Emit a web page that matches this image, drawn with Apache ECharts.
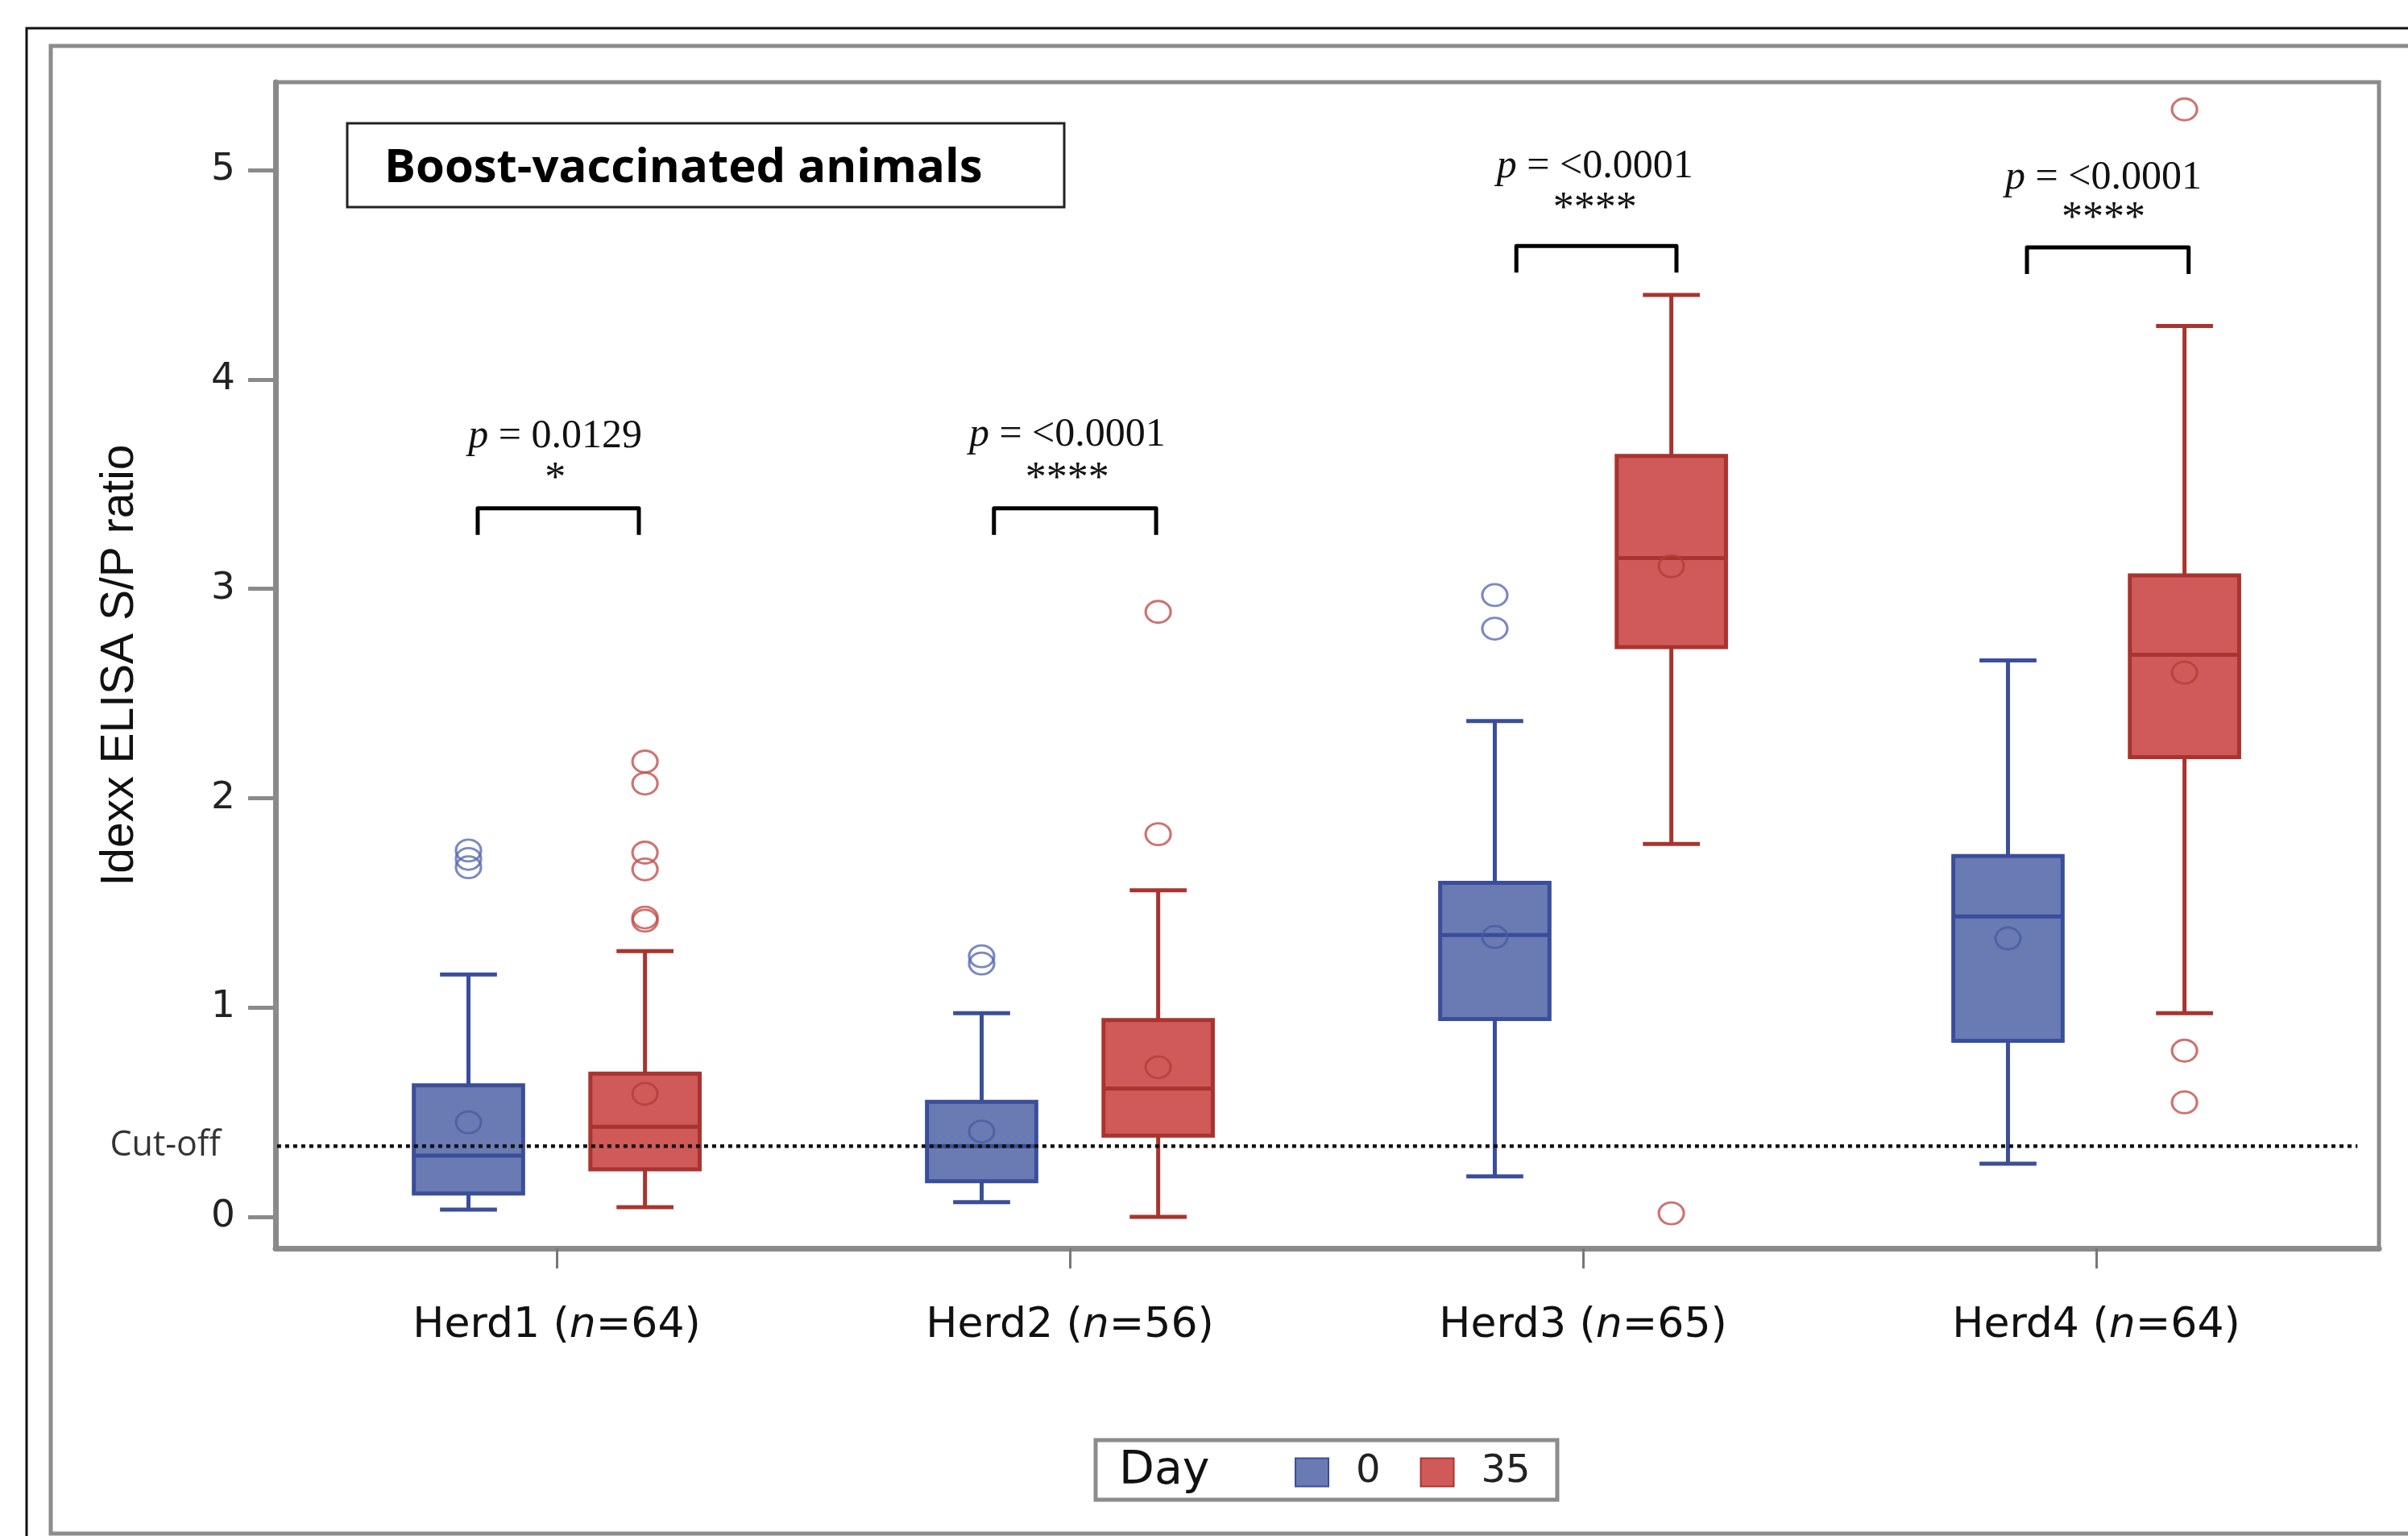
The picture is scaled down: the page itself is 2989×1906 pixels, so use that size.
<!DOCTYPE html>
<html>
<head>
<meta charset="utf-8">
<script src="https://cdn.jsdelivr.net/npm/echarts@6/dist/echarts.min.js"></script>
<style>
html,body{margin:0;padding:0;background:#fff;}
#chart{width:2989px;height:1906px;}
</style>
</head>
<body>
<div id="chart"></div>
<script>
// ---------------- data ----------------
const categories = ['Herd1', 'Herd2', 'Herd3', 'Herd4'];
const herdN = [64, 56, 65, 64];
const days = ['0', '35'];
// [low whisker, Q1, median, Q3, high whisker]
const day0Box = [
  [0.035, 0.112, 0.293, 0.629, 1.158],
  [0.070, 0.170, 0.338, 0.550, 0.973],
  [0.194, 0.945, 1.346, 1.596, 2.368],
  [0.254, 0.841, 1.435, 1.724, 2.658]
];
const day35Box = [
  [0.046, 0.227, 0.430, 0.684, 1.269],
  [0.000, 0.388, 0.613, 0.940, 1.560],
  [1.781, 2.722, 3.147, 3.635, 4.404],
  [0.973, 2.196, 2.685, 3.064, 4.256]
];
const day0Mean = [0.452, 0.408, 1.337, 1.330];
const day35Mean = [0.588, 0.715, 3.108, 2.600];
const day0Outliers = [[1.75, 1.71, 1.67], [1.245, 1.21], [2.97, 2.81], []];
const day35Outliers = [[2.175, 2.07, 1.74, 1.66, 1.43, 1.415], [2.89, 1.828], [0.017], [5.29, 0.794, 0.547]];
const cutOff = 0.338;
const cutOffLabel = 'Cut-off';
const yTicks = [0, 1, 2, 3, 4, 5];
const pValues = ['0.0129', '<0.0001', '<0.0001', '<0.0001'];
const stars = ['*', '****', '****', '****'];
const bracketLeft = [0.846, 1.852, 2.870, 3.865];
const bracketRight = [1.160, 2.168, 3.182, 4.180];
const bracketY = [3.385, 3.385, 4.638, 4.631];
const pTextX = [0.997, 1.995, 3.023, 4.014];
const pTextY = [3.728, 3.735, 5.016, 4.962];
const starY = [3.520, 3.520, 4.810, 4.765];

// ---------------- styles ----------------
const BLUE_FILL = '#6A7BB4', BLUE_LINE = '#3A4E9A', BLUE_PT = '#5A6CB0';
const RED_FILL = '#D05A59', RED_LINE = '#A9342F', RED_PT = '#C0504D';
const AXIS_GRAY = '#8a8a8a';
const OFFSET = 0.172, BOX_W = 0.213, CAP_W = 0.111, LEG = 0.127;

function boxData(arr, sign) {
  return arr.map((b, i) => [i + 1 + sign * OFFSET].concat(b));
}
function meanData(arr, sign) {
  return arr.map((m, i) => [i + 1 + sign * OFFSET, m]);
}
function outlierData(arr, sign) {
  const out = [];
  arr.forEach((list, i) => list.forEach(v => out.push([i + 1 + sign * OFFSET, v])));
  return out;
}

function makeBoxRender(fill, line) {
  return function (params, api) {
    const x = api.value(0);
    const low = api.value(1), q1 = api.value(2), med = api.value(3), q3 = api.value(4), high = api.value(5);
    const pL = api.coord([x - BOX_W / 2, q3]);
    const pR = api.coord([x + BOX_W / 2, q1]);
    const pc = api.coord([x, med]);
    const pLow = api.coord([x, low]);
    const pHigh = api.coord([x, high]);
    const cL = api.coord([x - CAP_W / 2, low])[0];
    const cR = api.coord([x + CAP_W / 2, low])[0];
    const pQ1 = api.coord([x, q1]);
    const pQ3 = api.coord([x, q3]);
    const ls = { stroke: line, lineWidth: 5, fill: null };
    return {
      type: 'group',
      children: [
        { type: 'line', shape: { x1: pc[0], y1: pQ3[1], x2: pc[0], y2: pHigh[1] }, style: ls },
        { type: 'line', shape: { x1: pc[0], y1: pQ1[1], x2: pc[0], y2: pLow[1] }, style: ls },
        { type: 'line', shape: { x1: cL, y1: pHigh[1], x2: cR, y2: pHigh[1] }, style: ls },
        { type: 'line', shape: { x1: cL, y1: pLow[1], x2: cR, y2: pLow[1] }, style: ls },
        { type: 'rect', shape: { x: pL[0], y: pL[1], width: pR[0] - pL[0], height: pR[1] - pL[1] },
          style: { fill: fill, stroke: line, lineWidth: 5 } },
        { type: 'line', shape: { x1: pL[0], y1: pc[1], x2: pR[0], y2: pc[1] }, style: ls }
      ]
    };
  };
}

const annotData = categories.map((c, i) => [bracketLeft[i], bracketRight[i], bracketY[i], pTextX[i], pTextY[i], starY[i], i]);

function renderAnnot(params, api) {
  const xl = api.value(0), xr = api.value(1), yb = api.value(2);
  const xt = api.value(3), yp = api.value(4), ys = api.value(5), idx = api.value(6);
  const a = api.coord([xl, yb - LEG]);
  const b = api.coord([xl, yb]);
  const c = api.coord([xr, yb]);
  const d = api.coord([xr, yb - LEG]);
  const tp = api.coord([xt, yp]);
  const ts = api.coord([xt, ys]);
  return {
    type: 'group',
    children: [
      { type: 'polyline', shape: { points: [a, b, c, d] },
        style: { stroke: '#000', lineWidth: 5, fill: null, lineJoin: 'round' } },
      { type: 'text', x: tp[0], y: tp[1],
        style: { text: '{p|p} = ' + pValues[idx], align: 'center', verticalAlign: 'middle',
          fontFamily: 'Liberation Serif', fontSize: 50, fill: '#111',
          rich: { p: { fontStyle: 'italic', fontFamily: 'Liberation Serif', fontSize: 50, fill: '#111' } } } },
      { type: 'text', x: ts[0], y: ts[1],
        style: { text: stars[idx], align: 'center', verticalAlign: 'middle',
          fontFamily: 'Liberation Serif', fontSize: 52, fill: '#111' } }
    ]
  };
}

const chart = echarts.init(document.getElementById('chart'), null, { renderer: 'canvas' });

const option = {
  backgroundColor: '#fff',
  animation: false,
  grid: { left: 342, top: 102, right: 36, bottom: 357, show: true, borderColor: AXIS_GRAY, borderWidth: 5, backgroundColor: 'transparent' },
  xAxis: {
    type: 'value', min: 0.452, max: 4.551,
    splitLine: { show: false },
    axisLine: { show: true, onZero: false, lineStyle: { color: AXIS_GRAY, width: 7 } },
    axisTick: { show: true, customValues: [1, 2, 3, 4], length: 25, lineStyle: { color: '#777', width: 3 } },
    axisLabel: {
      customValues: [1, 2, 3, 4], margin: 70,
      fontFamily: 'DejaVu Sans', fontSize: 52, color: '#111',
      formatter: function (v) {
        const i = Math.round(v) - 1;
        return categories[i] + ' ({n|n}=' + herdN[i] + ')';
      },
      rich: { n: { fontStyle: 'italic', fontFamily: 'DejaVu Sans', fontSize: 52, color: '#111' } }
    }
  },
  yAxis: {
    type: 'value', min: -0.15, max: 5.42,
    splitLine: { show: false },
    axisLine: { show: true, onZero: false, lineStyle: { color: AXIS_GRAY, width: 7 } },
    axisTick: { show: true, customValues: yTicks, length: 34, lineStyle: { color: AXIS_GRAY, width: 5 } },
    axisLabel: { customValues: yTicks, margin: 50, fontFamily: 'DejaVu Sans', fontSize: 47, color: '#222' },
    name: 'Idexx ELISA S/P ratio', nameLocation: 'middle', nameGap: 164,
    nameTextStyle: { fontFamily: 'Liberation Sans', fontSize: 57, color: '#111' }
  },
  legend: {
    data: days, left: 1607, top: 1803, padding: 0, itemGap: 49,
    itemWidth: 41, itemHeight: 35, icon: 'rect',
    textStyle: { fontFamily: 'DejaVu Sans', fontSize: 48, color: '#222', padding: [0, 0, 0, 29] }
  },
  series: [
    { name: days[0], type: 'custom', renderItem: makeBoxRender(BLUE_FILL, BLUE_LINE),
      itemStyle: { color: BLUE_FILL, borderColor: BLUE_LINE, borderWidth: 2 },
      encode: { x: 0, y: [1, 2, 3, 4, 5] }, data: boxData(day0Box, -1), z: 2 },
    { name: days[1], type: 'custom', renderItem: makeBoxRender(RED_FILL, RED_LINE),
      itemStyle: { color: RED_FILL, borderColor: RED_LINE, borderWidth: 2 },
      encode: { x: 0, y: [1, 2, 3, 4, 5] }, data: boxData(day35Box, 1), z: 2 },
    { name: 'mean0', type: 'scatter', symbol: 'circle', symbolSize: [31, 27], z: 3,
      itemStyle: { color: 'transparent', borderColor: '#4A5CA0', borderWidth: 3 },
      data: meanData(day0Mean, -1) },
    { name: 'mean35', type: 'scatter', symbol: 'circle', symbolSize: [31, 27], z: 3,
      itemStyle: { color: 'transparent', borderColor: '#B23E39', borderWidth: 3 },
      data: meanData(day35Mean, 1) },
    { name: 'out0', type: 'scatter', symbol: 'circle', symbolSize: [31, 27], z: 3,
      itemStyle: { color: 'transparent', borderColor: BLUE_PT, borderWidth: 3 },
      data: outlierData(day0Outliers, -1) },
    { name: 'out35', type: 'scatter', symbol: 'circle', symbolSize: [31, 27], z: 3,
      itemStyle: { color: 'transparent', borderColor: RED_PT, borderWidth: 3 },
      data: outlierData(day35Outliers, 1) },
    { name: 'cutoff', type: 'line', z: 4, symbol: 'none', silent: true,
      lineStyle: { color: '#111', width: 4.5, type: [5, 5] },
      data: [[0.455, cutOff], [4.509, cutOff]] },
    { name: 'cutoffLabel', type: 'scatter', z: 4, silent: true, symbol: 'circle', symbolSize: 2,
      itemStyle: { color: 'transparent' },
      label: { show: true, position: 'left', distance: 69, formatter: cutOffLabel,
        fontFamily: 'Open Sans', fontSize: 43, color: '#000' },
      data: [[0.455, cutOff]] },
    { name: 'annot', type: 'custom', renderItem: renderAnnot, z: 5,
      encode: { x: [0, 1, 3], y: [2, 4, 5] }, data: annotData }
  ],
  graphic: [
    { type: 'rect', silent: true, shape: { x: 33, y: 35, width: 3100, height: 3000 },
      style: { fill: null, stroke: '#111', lineWidth: 3 } },
    { type: 'rect', silent: true, shape: { x: 63, y: 57, width: 3100, height: 1846 },
      style: { fill: null, stroke: '#8c8c8c', lineWidth: 5 } },
    { type: 'rect', silent: true, shape: { x: 431, y: 153, width: 890, height: 104 },
      style: { fill: '#fff', stroke: '#222', lineWidth: 3 }, z: 10 },
    { type: 'text', silent: true, x: 477, y: 209, z: 11,
      style: { text: 'Boost-vaccinated animals', fontFamily: 'Open Sans', fontWeight: 'bold', fontSize: 58,
        fill: '#000', align: 'left', verticalAlign: 'middle' } },
    { type: 'rect', silent: true, shape: { x: 1360, y: 1787, width: 573, height: 74 },
      style: { fill: null, stroke: '#8c8c8c', lineWidth: 5 } },
    { type: 'text', silent: true, x: 1389, y: 1826,
      style: { text: 'Day', fontFamily: 'DejaVu Sans', fontSize: 57, fill: '#111', align: 'left', verticalAlign: 'middle' } }
  ]
};
chart.setOption(option);
</script>
</body>
</html>
